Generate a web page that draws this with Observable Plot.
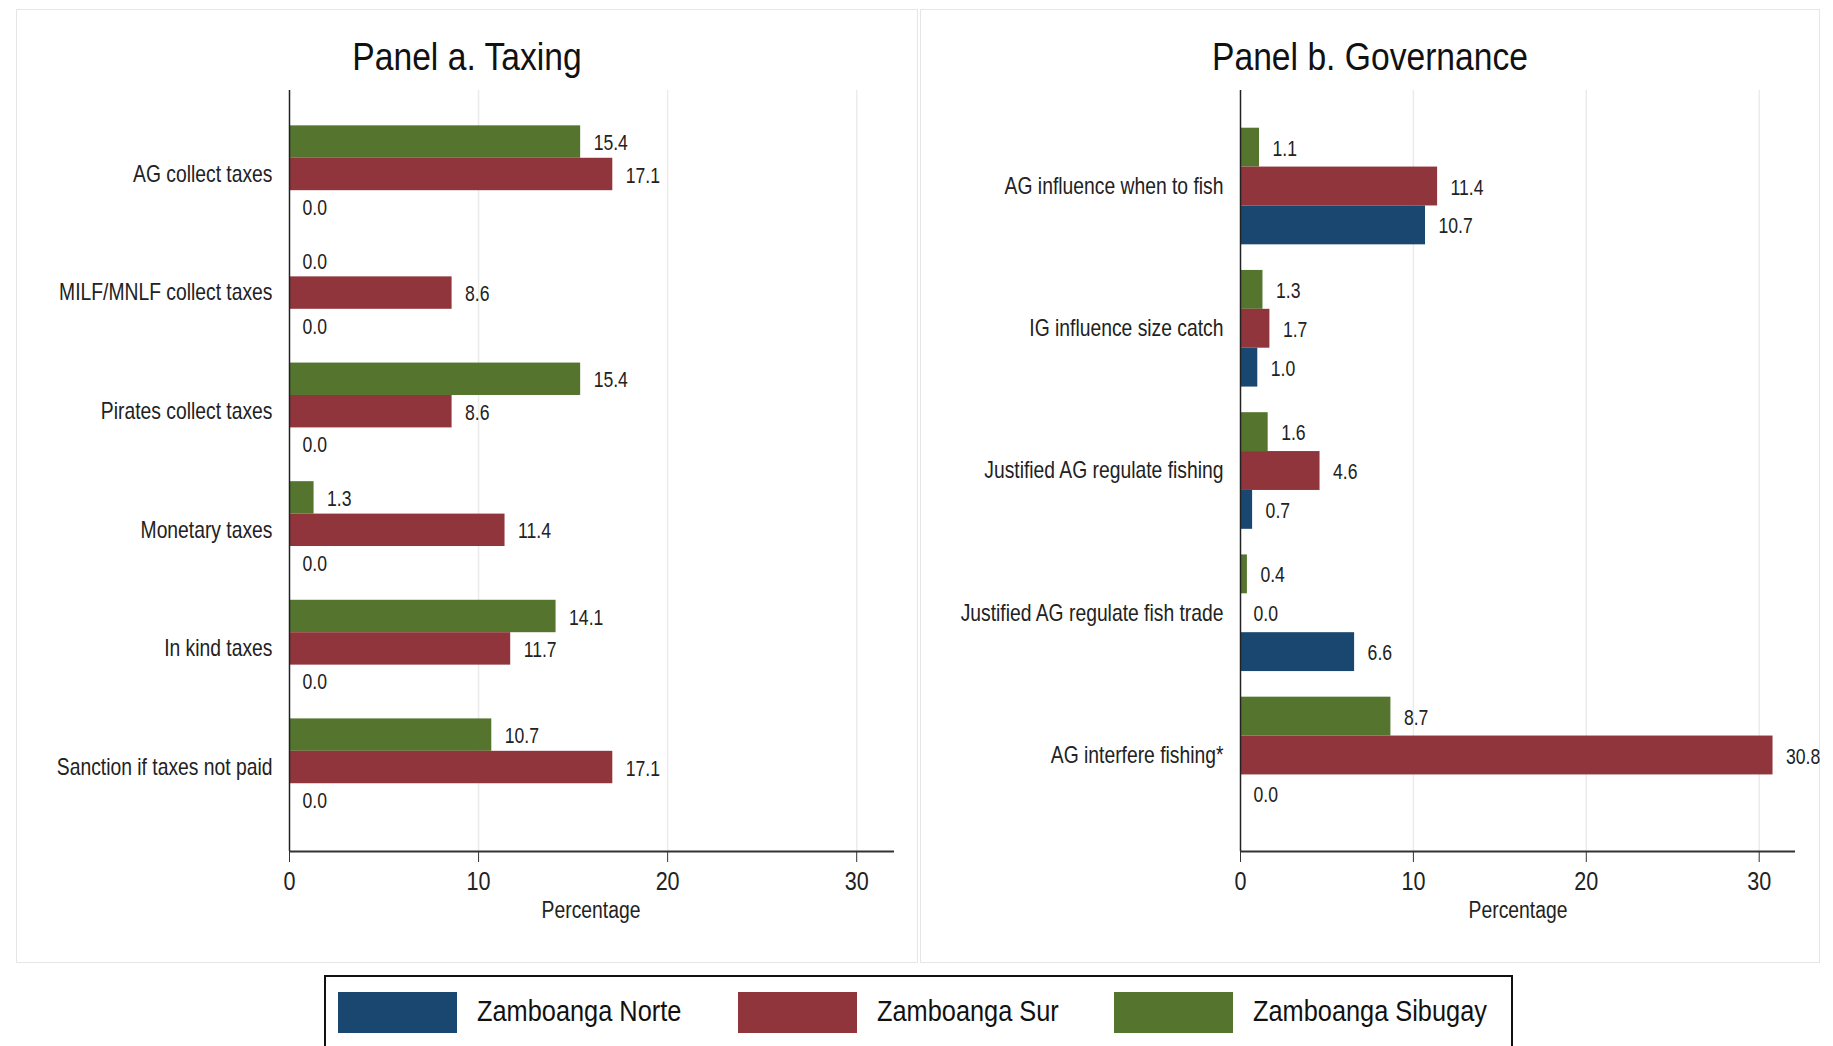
<!DOCTYPE html>
<html>
<head>
<meta charset="utf-8">
<script src="https://cdn.jsdelivr.net/npm/d3@7"></script>
<script src="https://cdn.jsdelivr.net/npm/@observablehq/plot@0.6"></script>
<style>
  html, body { margin: 0; padding: 0; background: #fff; width: 1833px; height: 1046px; overflow: hidden; }
  body { position: relative; font-family: "Liberation Sans", Arial, sans-serif; color: #222; }
  .abs { position: absolute; }
  .panel { position: absolute; border: 1.5px solid #e6e6e6; box-sizing: border-box; }
  .title { position: absolute; font-size: 38px; line-height: 38px; color: #111; white-space: nowrap; transform: translateX(-50%) scaleX(0.885); transform-origin: center; }
  .xlabel { position: absolute; font-size: 23px; line-height: 23px; color: #222; white-space: nowrap; transform: translate(-50%, -50%) scaleX(0.84); transform-origin: center; }
  .swatch { position: absolute; }
  .legtext { position: absolute; font-size: 30px; line-height: 30px; color: #111; white-space: nowrap; transform: translateY(-50%) scaleX(0.845); transform-origin: left center; }
  .layer { position: absolute; }
  .layer svg { display: block; }
</style>
</head>
<body>
<div id="root"></div>
<script>
// ---------- data ----------
const seriesNames = ["Zamboanga Norte", "Zamboanga Sur", "Zamboanga Sibugay"];
const seriesColors = ["#1a476f", "#90353b", "#55752f"];
const barOrder = ["Zamboanga Sibugay", "Zamboanga Sur", "Zamboanga Norte"];
const xTicks = [0, 10, 20, 30];

const titleA = "Panel a. Taxing";
const categoriesA = ["AG collect taxes", "MILF/MNLF collect taxes", "Pirates collect taxes", "Monetary taxes", "In kind taxes", "Sanction if taxes not paid"];
const sibugayA = [15.4, 0.0, 15.4, 1.3, 14.1, 10.7];
const surA = [17.1, 8.6, 8.6, 11.4, 11.7, 17.1];
const norteA = [0.0, 0.0, 0.0, 0.0, 0.0, 0.0];

const titleB = "Panel b. Governance";
const categoriesB = ["AG influence when to fish", "IG influence size catch", "Justified AG regulate fishing", "Justified AG regulate fish trade", "AG interfere fishing*"];
const sibugayB = [1.1, 1.3, 1.6, 0.4, 8.7];
const surB = [11.4, 1.7, 4.6, 0.0, 30.8];
const norteB = [10.7, 1.0, 0.7, 6.6, 0.0];

const xLabel = "Percentage";

function rowsOf(cats, sib, sur, norte) {
  const rows = [];
  cats.forEach((c, i) => {
    rows.push({cat: c, series: "Zamboanga Sibugay", value: sib[i]});
    rows.push({cat: c, series: "Zamboanga Sur", value: sur[i]});
    rows.push({cat: c, series: "Zamboanga Norte", value: norte[i]});
  });
  return rows;
}

const FONT = '"Liberation Sans", Arial, sans-serif';

// condense svg text horizontally (reference uses a narrow sans font)
function condense(svg, sel, s) {
  svg.querySelectorAll(sel).forEach(el => {
    const t = el.getAttribute("transform") || "";
    const x = +(el.getAttribute("x") || 0);
    el.setAttribute("transform", `${t} translate(${x},0) scale(${s},1) translate(${-x},0)`);
  });
}

function makeLayers({cats, rows, width, marginLeft, marginRight, xMax, paddingOuter}) {
  const base = {
    width, height: 881, marginTop: 10, marginBottom: 110, marginLeft, marginRight,
    style: {fontFamily: FONT, background: "transparent", color: "#222", overflow: "visible"}
  };
  const grid = Plot.plot({
    ...base,
    x: {domain: [0, xMax], axis: null},
    marks: [Plot.ruleX(xTicks.slice(1), {stroke: "#ebebeb", strokeWidth: 1.5})]
  });
  const bars = Plot.plot({
    ...base,
    x: {domain: [0, xMax], axis: null},
    y: {domain: barOrder, axis: null, padding: 0, round: false},
    fy: {domain: cats, paddingInner: 0.18, paddingOuter, round: false},
    color: {domain: seriesNames, range: seriesColors},
    marks: [
      Plot.barX(rows, {x: "value", y: "series", fy: "cat", fill: "series"}),
      Plot.text(rows, {x: "value", y: "series", fy: "cat", text: d => d.value.toFixed(1), dx: 13, dy: 1, textAnchor: "start", fontSize: 22, fill: "#222"}),
      Plot.axisFy({anchor: "left", tickSize: 0, tickPadding: 17, fontSize: 23, label: null, fill: "#222"})
    ]
  });
  condense(bars, 'g[aria-label="text"] text', 0.8);
  condense(bars, 'g[aria-label="fy-axis tick label"] text', 0.84);
  const axes = Plot.plot({
    ...base,
    x: {domain: [0, xMax]},
    y: {domain: [0, 1], axis: null},
    marks: [
      Plot.ruleX([0], {stroke: "#222", strokeWidth: 1.5}),
      Plot.ruleY([0], {stroke: "#333", strokeWidth: 2}),
      Plot.axisX({ticks: xTicks, tickSize: 11, tickPadding: 9, fontSize: 26, label: null, stroke: "#333", fill: "#222"})
    ]
  });
  condense(axes, 'g[aria-label="x-axis tick label"] text', 0.83);
  return [grid, bars, axes];
}

const root = document.getElementById("root");

function addDiv(cls, css, text) {
  const d = document.createElement("div");
  d.className = cls;
  Object.assign(d.style, css);
  if (text != null) d.textContent = text;
  root.appendChild(d);
  return d;
}

// panel frames
addDiv("panel", {left: "16px", top: "9px", width: "902px", height: "954px"});
addDiv("panel", {left: "920px", top: "9px", width: "900px", height: "954px"});

// titles
addDiv("title", {left: "467px", top: "38px"}, titleA);
addDiv("title", {left: "1370px", top: "38px"}, titleB);

// plots (grid / bars / axes layers share identical scales)
const layersA = makeLayers({cats: categoriesA, rows: rowsOf(categoriesA, sibugayA, surA, norteA), width: 902, marginLeft: 273, marginRight: 24, xMax: 32, paddingOuter: 0.298});
layersA.forEach(svg => addDiv("layer", {left: "16px", top: "80px"}).appendChild(svg));
const layersB = makeLayers({cats: categoriesB, rows: rowsOf(categoriesB, sibugayB, surB, norteB), width: 900, marginLeft: 320, marginRight: 25, xMax: 32.1, paddingOuter: 0.265});
layersB.forEach(svg => addDiv("layer", {left: "920px", top: "80px"}).appendChild(svg));

// x labels
addDiv("xlabel", {left: "591px", top: "910px"}, xLabel);
addDiv("xlabel", {left: "1518px", top: "910px"}, xLabel);

// legend
addDiv("abs", {left: "324px", top: "975px", width: "1189px", height: "110px", border: "2px solid #111", boxSizing: "border-box", background: "#fff"});
const swatchX = [338, 738, 1114];
seriesNames.forEach((s, i) => {
  addDiv("swatch", {left: swatchX[i] + "px", top: "992px", width: "119px", height: "41px", background: seriesColors[i]});
  addDiv("legtext", {left: (swatchX[i] + 139) + "px", top: "1011px"}, s);
});
</script>
</body>
</html>
